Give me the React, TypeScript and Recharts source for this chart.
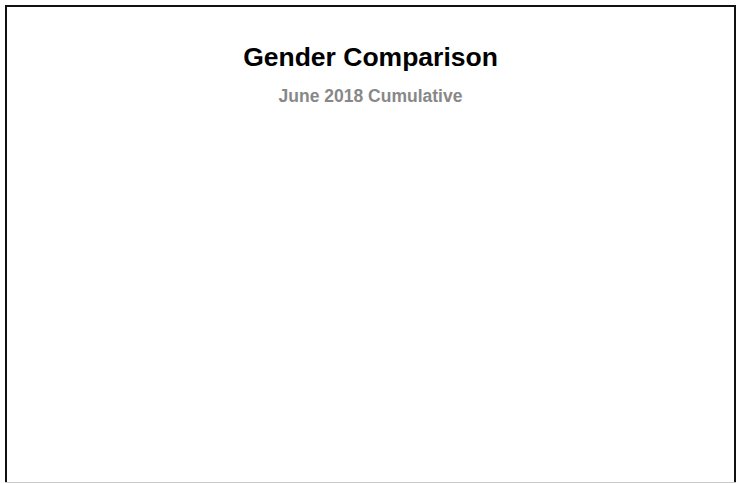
import { Bar, BarChart, XAxis, YAxis } from "recharts"

const title = "Gender Comparison"
const subtitle = "June 2018 Cumulative"

// no records are shown for this month
const genders: string[] = []
const counts: number[] = []

const data = genders.map((g, i) => ({ name: g, value: counts[i] }))

export default function App() {
  return (
    <div
      style={{
        position: "absolute",
        left: 5,
        top: 5,
        width: 731,
        height: 490,
        boxSizing: "border-box",
        borderTop: "2px solid #111",
        borderLeft: "2px solid #111",
        borderRight: "2px solid #111",
        background: "#fff",
        fontFamily: "'Liberation Sans', Arial, sans-serif",
      }}
    >
      <div style={{ position: "absolute", left: 0, right: 0, top: 35, textAlign: "center", fontSize: 26.5, fontWeight: "bold", color: "#000" }}>
        {title}
      </div>
      <div style={{ position: "absolute", left: 0, right: 0, top: 79, textAlign: "center", fontSize: 17.5, fontWeight: "bold", color: "#888" }}>
        {subtitle}
      </div>
      <div style={{ position: "absolute", left: 20, top: 120 }}>
        <BarChart width={680} height={330} data={data}>
          <XAxis dataKey="name" hide />
          <YAxis hide />
          <Bar dataKey="value" fill="#4e79a7" isAnimationActive={false} />
        </BarChart>
      </div>
      <div style={{ position: "absolute", left: -2, right: -2, top: 475, height: 1, background: "#c8c8c8" }} />
    </div>
  )
}
